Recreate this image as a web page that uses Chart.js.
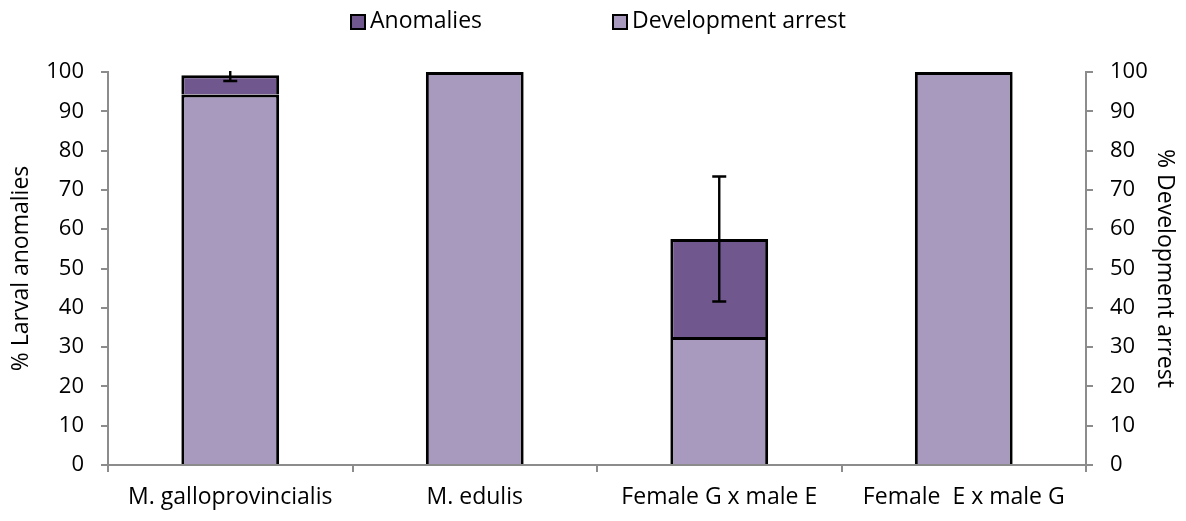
<!DOCTYPE html>
<html>
<head>
<meta charset="utf-8">
<script src="https://cdn.jsdelivr.net/npm/chart.js@4"></script>
<style>
  body { margin: 0; background: #fff; }
  #wrap { width: 1186px; height: 521px; }
</style>
</head>
<body>
<div id="wrap"><canvas id="myChart"></canvas></div>
<script>
var categories = ['M. galloprovincialis', 'M. edulis', 'Female G x male E', 'Female  E x male G'];
var arrestValues = [94.3, 100, 32.6, 100];
var anomalyValues = [4.9, 0, 24.9, 0];
var errorValues = [1.5, 0, 15.9, 0];
var yTicks = [0, 10, 20, 30, 40, 50, 60, 70, 80, 90, 100];

var FONT = '"Open Sans", sans-serif';
var axisGray = '#8c8c8c';

// error bars on top of the stacked total
var errorBars = {
  id: 'errorBars',
  afterDatasetsDraw: function(chart) {
    var c = chart.ctx, xs = chart.scales.x, ys = chart.scales.y, area = chart.chartArea;
    c.save();
    c.beginPath();
    c.rect(area.left, area.top - 1, area.right - area.left, area.bottom - area.top + 1);
    c.clip();
    c.strokeStyle = '#000';
    c.lineWidth = 2.4;
    for (var i = 0; i < categories.length; i++) {
      if (!errorValues[i]) continue;
      var total = arrestValues[i] + anomalyValues[i];
      var x = xs.getPixelForValue(i);
      var yTop = ys.getPixelForValue(total + errorValues[i]);
      var yBot = ys.getPixelForValue(total - errorValues[i]);
      c.beginPath();
      c.moveTo(x, yTop); c.lineTo(x, yBot);
      c.moveTo(x - 7, yBot); c.lineTo(x + 7, yBot);
      if (total + errorValues[i] <= 100) { c.moveTo(x - 7, yTop); c.lineTo(x + 7, yTop); }
      c.stroke();
    }
    c.restore();
  }
};

// legend drawn like the office one: Anomalies first
var topLegend = {
  id: 'topLegend',
  afterDraw: function(chart) {
    var c = chart.ctx;
    var items = [
      { text: 'Anomalies', color: chart.data.datasets[1].backgroundColor, x: 351 },
      { text: 'Development arrest', color: chart.data.datasets[0].backgroundColor, x: 613 }
    ];
    c.save();
    c.font = '23px ' + FONT;
    c.textBaseline = 'middle';
    items.forEach(function(it) {
      c.fillStyle = it.color;
      c.fillRect(it.x, 15, 14, 14);
      c.strokeStyle = '#000';
      c.lineWidth = 2;
      c.strokeRect(it.x, 15, 14, 14);
      c.fillStyle = '#000';
      c.fillText(it.text, it.x + 19, 21);
    });
    c.restore();
  }
};

var yAxisBase = function(pos, title, width) {
  return {
    position: pos,
    stacked: pos === 'left',
    min: 0,
    max: 100,
    afterFit: function(s) { s.width = width; },
    afterBuildTicks: function(s) { s.ticks = yTicks.map(function(v) { return { value: v }; }); },
    border: { display: true, color: axisGray, width: 2 },
    grid: { drawOnChartArea: false, drawTicks: true, tickLength: 7, color: axisGray, lineWidth: 2 },
    ticks: { color: '#000', font: { family: FONT, size: 22 }, padding: 17 },
    title: { display: true, text: title, color: '#000', font: { family: FONT, size: 23 }, padding: { top: 8, bottom: 4 } }
  };
};

var ctx = document.getElementById('myChart');
var myChart = new Chart(ctx, {
  type: 'bar',
  data: {
    labels: categories,
    datasets: [{
      label: 'Development arrest',
      data: arrestValues,
      backgroundColor: '#a899be',
      borderColor: '#000',
      borderWidth: 3,
      barPercentage: 0.4,
      categoryPercentage: 1
    }, {
      label: 'Anomalies',
      data: anomalyValues,
      backgroundColor: '#70588e',
      borderColor: '#000',
      borderWidth: 3,
      barPercentage: 0.4,
      categoryPercentage: 1
    }]
  },
  options: {
    responsive: true,
    maintainAspectRatio: false,
    animation: false,
    layout: { padding: { top: 72, left: 0, right: 0, bottom: 0 } },
    plugins: { legend: { display: false }, tooltip: { enabled: false } },
    scales: {
      x: {
        stacked: true,
        afterFit: function(s) { s.height = 56; },
        border: { display: true, color: axisGray, width: 2 },
        grid: { offset: true, drawOnChartArea: false, drawTicks: true, tickLength: 7, color: axisGray, lineWidth: 2 },
        ticks: { color: '#000', font: { family: FONT, size: 23 }, padding: 12, maxRotation: 0 }
      },
      y: yAxisBase('left', '% Larval anomalies', 108),
      y2: yAxisBase('right', '% Development arrest', 100)
    }
  },
  plugins: [errorBars, topLegend]
});
</script>
</body>
</html>
